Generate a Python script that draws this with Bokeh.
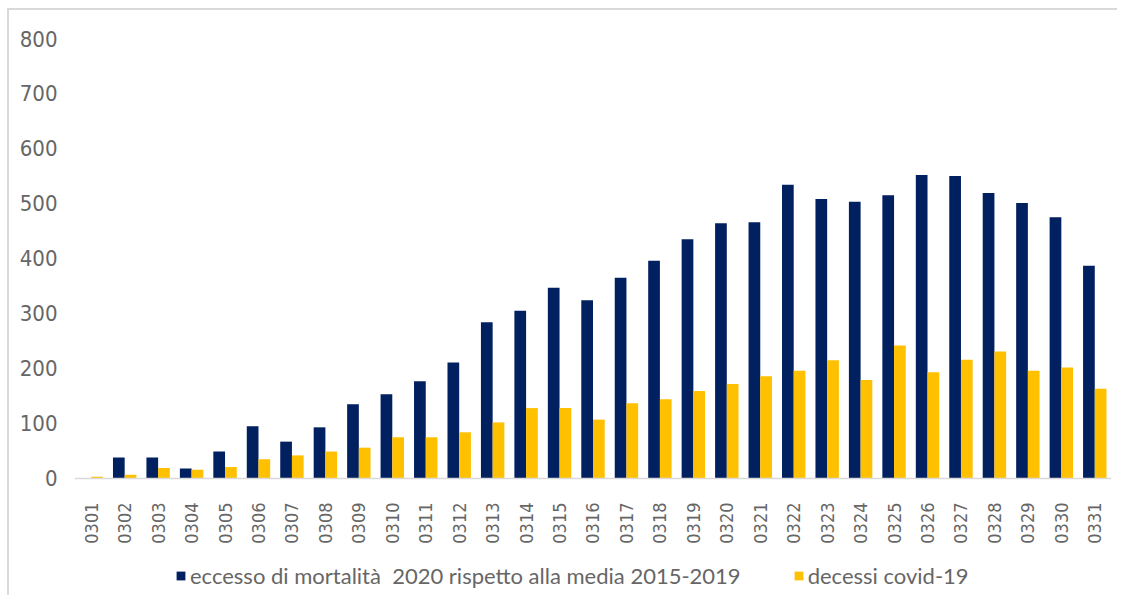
from bokeh.plotting import figure
from bokeh.models import ColumnDataSource, FactorRange, Range1d, Legend, LegendItem
from bokeh.transform import dodge
from bokeh.embed import file_html
from bokeh.resources import INLINE
import math

days = ["0301", "0302", "0303", "0304", "0305", "0306", "0307", "0308", "0309", "0310",
        "0311", "0312", "0313", "0314", "0315", "0316", "0317", "0318", "0319", "0320",
        "0321", "0322", "0323", "0324", "0325", "0326", "0327", "0328", "0329", "0330", "0331"]
eccesso = [0, 38, 38, 18, 49, 95, 67, 93, 135, 153,
           177, 211, 284, 305, 347, 324, 365, 396, 435, 464,
           466, 534, 508, 503, 515, 552, 550, 519, 501, 475, 387]
covid = [3, 7, 19, 16, 21, 35, 42, 49, 56, 75,
         75, 84, 102, 128, 128, 107, 137, 144, 159, 172,
         186, 196, 215, 179, 242, 193, 216, 231, 196, 202, 163]
y_ticks = [0, 100, 200, 300, 400, 500, 600, 700, 800]
series_names = ["eccesso di mortalità  2020 rispetto alla media 2015-2019", "decessi covid-19"]

NAVY = "#002060"
YELLOW = "#FFC000"
TEXT = "#666666"
NARROW = "'DejaVu Sans Condensed', 'Liberation Sans', sans-serif"

src = ColumnDataSource(dict(day=days, eccesso=eccesso, covid=covid))

p = figure(width=1110, height=587, output_backend="svg", toolbar_location=None,
           x_range=FactorRange(*days, range_padding=0), y_range=Range1d(-216.4, 800),
           min_border_left=65, min_border_right=8, min_border_top=28, min_border_bottom=0)
p.styles = {"border-top": "2px solid #d9d9d9", "border-left": "2px solid #d9d9d9",
            "margin-left": "7px", "margin-top": "8px"}
p.outline_line_color = None
p.grid.visible = False

r1 = p.vbar(x=dodge("day", -0.175, range=p.x_range), top="eccesso", width=0.35,
            source=src, fill_color=NAVY, line_color=None)
r2 = p.vbar(x=dodge("day", 0.175, range=p.x_range), top="covid", width=0.35,
            source=src, fill_color=YELLOW, line_color=None)

ya = p.yaxis[0]
ya.ticker = y_ticks
ya.axis_line_color = None
ya.major_tick_line_color = None
ya.minor_tick_line_color = None
ya.major_label_text_font = NARROW
ya.major_label_text_font_size = "22px"
ya.major_label_text_color = TEXT
ya.major_label_standoff = 11

xa = p.xaxis[0]
xa.fixed_location = 0
xa.axis_line_color = "#d9d9d9"
xa.axis_line_width = 1.5
xa.major_tick_line_color = None
xa.minor_tick_line_color = None
xa.major_label_orientation = math.pi / 2
xa.major_label_text_font = NARROW
xa.major_label_text_font_size = "18px"
xa.major_label_text_color = TEXT
xa.major_label_standoff = 18

legend = Legend(items=[LegendItem(label=series_names[0], renderers=[r1]),
                       LegendItem(label=series_names[1], renderers=[r2])],
                orientation="horizontal", location=(101, 8),
                glyph_width=11, glyph_height=11, label_standoff=4, spacing=52,
                label_text_font="Lato", label_text_font_size="22px",
                label_text_color=TEXT, border_line_color=None,
                background_fill_alpha=0, margin=0, padding=6)
p.add_layout(legend, "center")

open("out.html", "w").write(file_html(p, INLINE))
